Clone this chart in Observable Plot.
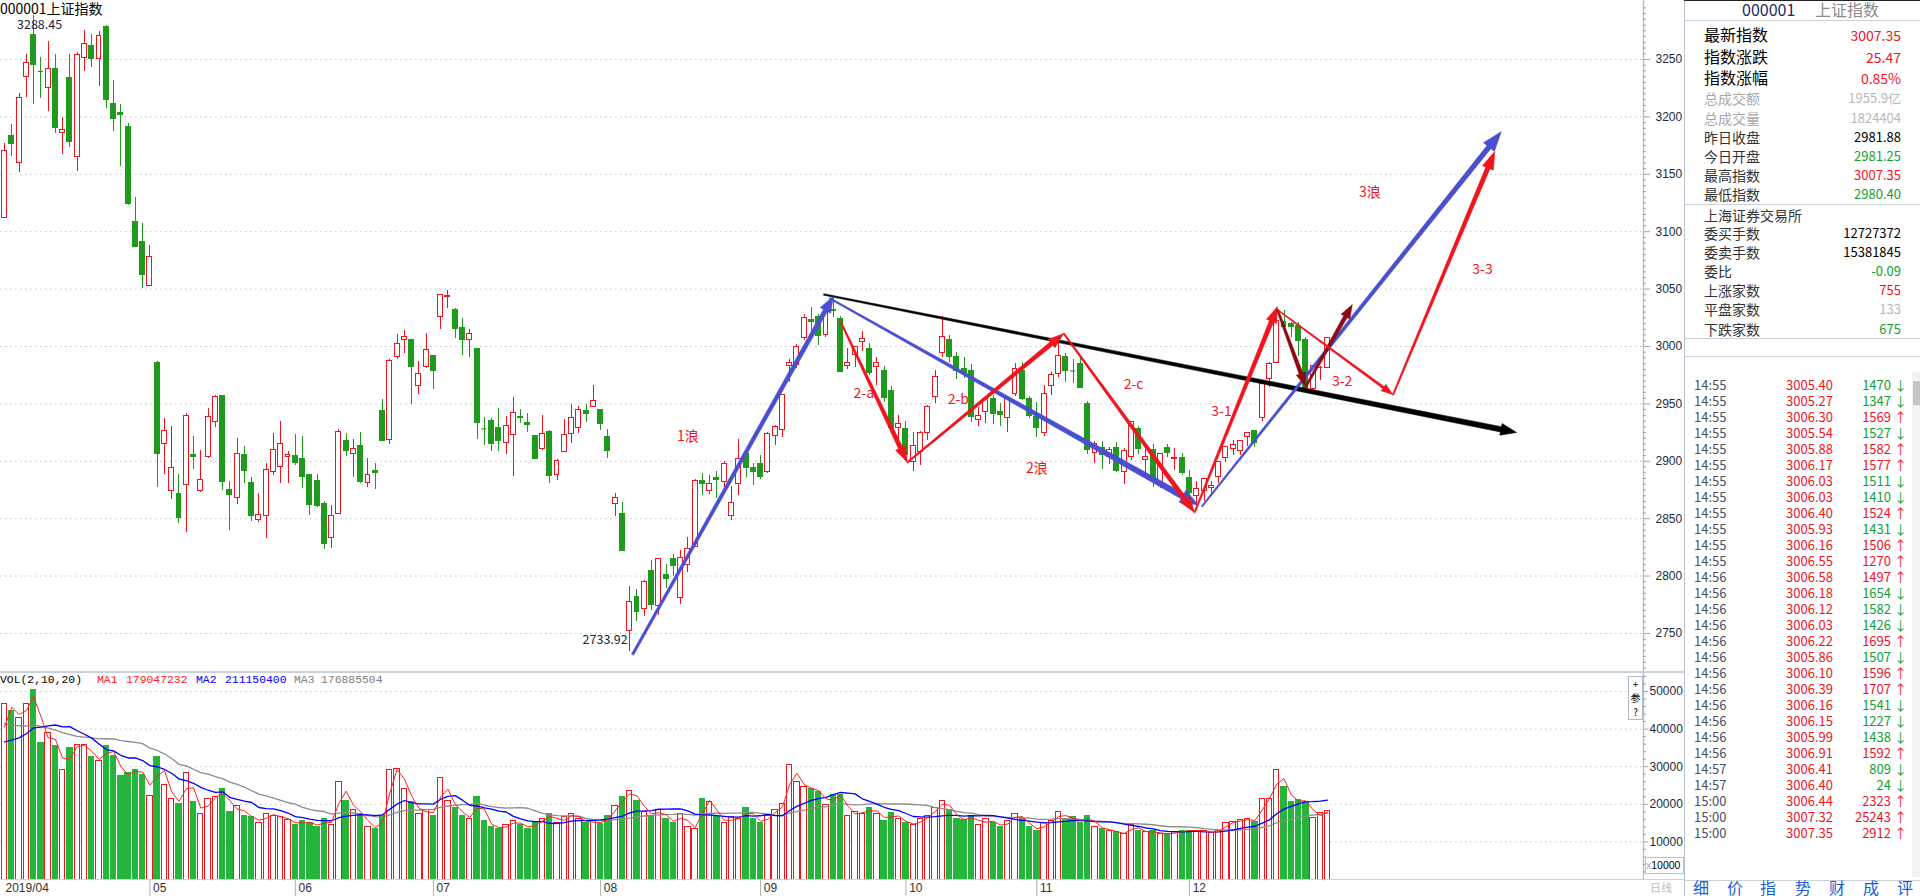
<!DOCTYPE html>
<html><head><meta charset="utf-8">
<script src="https://cdn.jsdelivr.net/npm/d3@7"></script>
<script src="https://cdn.jsdelivr.net/npm/@observablehq/plot@0.6"></script>
<style>
html,body{margin:0;padding:0;background:#fff}
body{position:relative;width:1920px;height:896px;overflow:hidden;font-family:"Noto Sans CJK SC","Noto Sans",sans-serif}
.abs{position:absolute}
.t{position:absolute;white-space:nowrap;line-height:1.2}
.ln{position:absolute;background:#c9d1d9}
</style></head><body>
<div id="price" class="abs" style="left:0;top:0"></div>
<div id="vol" class="abs" style="left:0;top:672px"></div>
<div id="xax" class="abs" style="left:0;top:880px"></div>
<script>
// ---------------- DATA (SSE Composite 000001, daily, 2019-04-01 .. 2019-12-26) ----------------
const open = [
3111.7,3183.7,3160.0,3234.4,3271.6,3240.5,3225.3,3241.6,3186.2,3234.0,3165.3,3251.0,3261.6,3250.6,3278.7,3211.6,3203.4,3190.9,3108.4,3090.9,3052.8,
2985.6,2915.0,2874.1,2871.6,2879.1,2905.6,2873.7,2903.4,2934.0,2956.5,2874.7,2868.4,2905.3,2881.0,2848.7,2851.9,2890.9,2895.0,2904.0,2904.7,
2902.2,2888.1,2882.5,2862.8,2833.4,2854.4,2917.8,2906.5,2913.4,2880.9,2891.5,2944.1,2918.4,2990.9,3005.3,3005.3,2965.3,2982.5,2991.9,
3025.3,3042.8,3032.2,3015.9,3005.9,2998.1,2929.1,2935.3,2928.8,2916.0,2923.1,2938.8,2933.1,2922.2,2910.6,2925.3,2887.8,2908.4,2924.1,2929.4,2943.4,2947.2,2945.0,
2921.4,2862.8,2854.4,2752.0,2782.0,2771.0,2804.0,2774.0,2801.0,2815.0,2781.0,2810.0,2825.0,2883.0,2874.0,2885.0,2882.0,2852.0,2880.0,2906.0,2894.0,2898.0,
2891,2922,2927,2983,2984,3007,3023,3026,3010,3032,3024,2983,2993,3004,2998,2982,2979,2961,2929,2928,
2899,2908,2925,2956,2994,3006,2991,2980,2979,2936,2943,2954,2943,2938,2959,2979,2954,2939,
2925,2966,2976,2991,2979,2985,2950,2907,2912,2904,2912,2891,2904,2928,2901,2910,2881,2912,2902,2903,2885,
2870,2874,2877,2886,2903,2911,2909,2921,2926,2938,2972,2986,3021,3020,3018,3006,2963,2981,2981.25];
const high = [
3176.6,3193.4,3220.0,3254.4,3288.45,3252.0,3265.3,3254.4,3199.7,3254.4,3256.0,3275.3,3271.6,3274.7,3280.0,3231.6,3210.6,3194.0,3129.4,3107.5,3088.4,
2986.6,2937.6,2930.0,2888.8,2941.3,2921.3,2909.0,2945.6,2956.9,2957.5,2882.5,2920.0,2912.8,2885.6,2872.2,2898.1,2924.1,2935.0,2908.4,2923.1,
2921.6,2888.8,2888.8,2865.3,2861.3,2927.8,2924.1,2919.1,2924.7,2902.8,2898.1,2953.8,2988.7,3010.6,3013.8,3005.9,2986.6,3011.6,2992.5,
3045.6,3049.0,3032.8,3024.7,3014.7,2998.1,2937.8,2937.2,2945.9,2938.8,2955.9,2945.0,2941.9,2922.2,2939.7,2927.2,2901.3,2936.6,2949.1,2948.1,2949.1,2965.9,2945.0,
2927.8,2872.2,2863.7,2791.0,2788.0,2796.0,2814.0,2815.0,2810.0,2819.0,2822.0,2834.0,2884.0,2889.0,2888.0,2891.0,2900.0,2878.0,2919.0,2910.0,2898.0,2905.0,
2925,2931,2957,2989,3002,3028,3034,3028,3034,3042.9,3026,2998,3000,3013,3003,2990,2983,2965,2940,2935,
2925,2926,2949,2979,3025.7,3010,2995,2990,2984,2947,2955,2957,2950,2956,2985,2986,2956,2951,
2966,2977,3005.2,2994,2989,2991,2952,2917,2917,2912,2916,2911,2934,2930,2910,2915,2907,2915,2911,2907,2892,
2882,2885,2882,2900,2913,2918,2918,2925,2927,2968,2986,3025,3031,3021,3021,3008,2983,2983,3007.35];
const low = [
3111.7,3165.3,3151.9,3216.9,3211.2,3216.0,3205.0,3185.6,3167.5,3173.0,3152.8,3239.4,3242.8,3226.9,3207.5,3187.2,3156.9,3123.1,3085.9,3050.3,3052.2,
2876.9,2888.8,2866.9,2845.6,2837.8,2892.8,2872.5,2902.2,2929.1,2874.7,2839.4,2862.2,2881.0,2847.2,2846.6,2832.5,2887.2,2881.0,2881.0,2896.6,
2876.3,2852.8,2859.7,2823.1,2824.1,2853.7,2904.4,2885.6,2880.9,2877.2,2875.6,2916.9,2914.7,2988.7,2994.1,2949.7,2958.1,2980.9,2962.2,
3014.7,3033.4,3006.6,2992.5,2990.3,2919.1,2913.7,2908.4,2908.4,2906.0,2886.6,2932.5,2925.3,2901.3,2909.7,2881.0,2883.4,2907.5,2915.3,2924.1,2933.4,2946.6,2926.9,
2902.2,2851.9,2821.5,2733.92,2760.0,2765.0,2770.0,2766.0,2789.0,2800.0,2775.0,2803.0,2825.0,2870.0,2871.0,2868.0,2876.0,2848.0,2870.0,2886.0,2879.0,2884.0,
2889,2914,2921,2969,2981,3005,3006,3001,3008,3025,2978,2980,2982,2996,2975,2966,2951,2924,2919,2905,
2891,2896,2918,2950,2990,2986,2971,2972,2934,2930,2933,2932,2930,2925,2956,2953,2937,2921,
2922,2957,2973,2969,2968,2964,2906,2898,2893,2897,2890,2880,2901,2906,2889,2877,2876,2903,2892,2888,2866,
2857,2865,2869,2881,2899,2905,2905,2913,2912,2935,2964,2985,3012,3008,2991,2961,2960,2970,2980.40];
const close = [
3170.36,3176.82,3216.30,3246.57,3244.81,3239.66,3241.93,3189.96,3188.63,3177.79,3253.60,3263.12,3250.20,3270.80,3215.04,3198.59,3201.61,3123.83,3086.40,3062.50,3078.34,
2906.46,2926.39,2893.76,2850.95,2939.21,2903.71,2883.61,2938.68,2955.71,2882.30,2870.60,2905.97,2891.70,2852.52,2852.99,2892.38,2909.91,2914.70,2905.81,2898.70,
2886.0,2862.28,2861.42,2827.80,2852.13,2925.72,2909.38,2910.74,2881.97,2887.62,2890.16,2917.80,2987.12,3001.98,3008.15,2982.07,2976.28,2996.79,2978.88,
3044.90,3043.94,3015.26,3005.25,3011.06,2933.36,2928.23,2915.30,2917.76,2930.55,2942.19,2937.62,2931.69,2901.95,2924.20,2886.97,2899.94,2923.28,2937.36,2944.54,2941.01,2952.34,2932.51,
2908.77,2867.84,2821.50,2777.56,2768.68,2794.55,2774.75,2814.99,2797.26,2808.91,2815.80,2823.82,2883.10,2880.33,2880.00,2883.44,2897.43,2863.57,2902.19,2893.76,2890.92,2886.24,
2924.11,2930.15,2957.41,2985.86,2999.60,3024.74,3021.20,3008.81,3031.24,3030.75,2978.12,2985.66,2999.28,3006.45,2977.08,2985.34,2955.43,2929.09,2932.17,2905.19,
2913.57,2924.86,2947.71,2973.66,3007.88,2991.05,2978.71,2977.33,2938.14,2939.62,2954.38,2940.92,2940.46,2954.93,2980.05,2954.18,2939.32,2929.06,
2958.20,2975.49,2991.56,2978.60,2978.71,2964.18,2909.97,2914.82,2905.24,2909.87,2891.34,2909.20,2933.99,2911.05,2903.64,2885.29,2906.17,2907.06,2903.19,2889.69,2871.98,
2875.81,2884.70,2878.12,2899.47,2912.01,2914.48,2917.32,2924.42,2915.70,2967.68,2984.39,3022.42,3017.04,3017.07,3004.94,2962.75,2982.68,2981.88,3007.35];
// volume, x10000 lots
const volume = [
46700,44900,42900,46800,50400,36400,39000,35500,29000,35000,35700,35700,32500,31400,35400,32800,27400,28300,29200,27900,22300,
32700,25200,21500,20000,28300,20500,17500,21500,22000,24000,18000,19500,17000,16500,15000,17500,17000,16500,15800,14500,
15500,15000,14000,16000,14500,26000,21000,18500,17500,14000,13500,17000,29000,29500,24000,20500,17500,18500,17000,
27000,21000,19000,17000,16000,22000,15500,14000,13500,14500,15500,14500,13500,15000,16000,17500,15000,16500,17500,16000,15000,15500,14800,
17000,19500,22000,23500,21000,18000,17000,18500,16000,15000,17500,14000,13500,21500,20500,16500,15000,16500,16000,19000,16000,15000,
17000,18500,20000,30500,26000,24500,24100,23200,19700,22500,22400,16800,18000,17500,19000,17500,15500,17800,16000,15000,
14500,16000,17000,19000,21000,18500,16000,15800,17000,14500,16000,15000,14000,15500,17500,16000,14000,13000,
15000,15500,18000,16000,16500,15000,17000,14000,13500,13000,12500,12000,14500,13000,12500,12800,12000,12200,12500,13000,13000,
13000,12800,12300,13000,15000,15300,15800,16000,15400,21500,21500,29200,24500,20500,21200,20700,16400,17566,18244];
// sessions before 2019-04-01 (only feed the moving averages; estimated from where MA lines start)
const volBeforeApril = [52000,49000,47000,45000,44000,48000,46000,43000,45000,45000,40000,37000,36000,35000,34000,36000,33000,34000,34300];

const monthStart = [0,21,41,60,83,105,125,143,164];
const monthLabel = ["2019/04","05","06","07","08","09","10","11","12"];
const priceTicks = [2750,2800,2850,2900,2950,3000,3050,3100,3150,3200,3250];
const volTicks = [10000,20000,30000,40000,50000];

// wave annotations: [name, startIndex, startPrice, endIndex, endPrice]
const waveArrows = [
 ["trend",112.7,3045.3,208.0,2925.1],
 ["w1",86.4,2731.7,114.0,3043.6],
 ["w2",113.5,3042.0,164.2,2861.9],
 ["w3",164.7,2860.6,205.9,3187.3],
 ["2-a",115.0,3021.8,124.2,2899.0],
 ["2-b",124.2,2899.0,145.7,3011.3],
 ["2-c",145.7,3011.3,163.7,2855.4],
 ["3-1",163.7,2855.4,175.1,3034.8],
 ["3-2x",175.1,3032.0,179.0,2965.0],
 ["3-2y",179.0,2965.0,185.4,3036.6],
 ["3-2",175.1,3032.0,191.0,2958.0],
 ["3-3",191.0,2958.0,205.0,3170.0]];
const waveText = ["1浪","2-a","2-b","2浪","2-c","3-1","3-2","3浪","3-3"];
const waveTextIndex = [94,118.2,131.2,142,155.3,167.4,184,187.8,203.3];
const waveTextPrice = [2922,2959,2953.8,2893.7,2967,2943.4,2969.5,3134,3067];

const headerMA = ["179047232","211150400","176885504"];
const quoteLabels = ["最新指数","指数涨跌","指数涨幅","总成交额","总成交量","昨日收盘","今日开盘","最高指数","最低指数"];
const quoteValues = ["3007.35","25.47","0.85%","1955.9亿","1824404","2981.88","2981.25","3007.35","2980.40"];
const exLabels = ["委买手数","委卖手数","委比","上涨家数","平盘家数","下跌家数"];
const exValues = ["12727372","15381845","-0.09","755","133","675"];
const tickTimes = ["14:55","14:55","14:55","14:55","14:55","14:55","14:55","14:55","14:55","14:55","14:55","14:55","14:56","14:56","14:56","14:56","14:56","14:56","14:56","14:56","14:56","14:56","14:56","14:56","14:57","14:57","15:00","15:00","15:00"];
const tickPrices = ["3005.40","3005.27","3006.30","3005.54","3005.88","3006.17","3006.03","3006.03","3006.40","3005.93","3006.16","3006.55","3006.58","3006.18","3006.12","3006.03","3006.22","3005.86","3006.10","3006.39","3006.16","3006.15","3005.99","3006.91","3006.41","3006.40","3006.44","3007.32","3007.35"];
const tickVols = [1470,1347,1569,1527,1582,1577,1511,1410,1524,1431,1506,1270,1497,1654,1582,1426,1695,1507,1596,1707,1541,1227,1438,1592,809,24,2323,25243,2912];
const tickDir = "↓↓↑↓↑↑↓↓↑↓↑↑↑↓↓↓↑↓↑↑↓↓↓↑↓↓↑↑↑";
const tabs = ["细","价","指","势","财","成","评"];

// ---------------- STYLE ----------------
const RED="#f0141e", GREEN="#1f9a1f", VGREEN="#25b53c", BLUE="#4a4fd0", DRED="#8c0a14", TXTGREEN="#12a032";
const arrowStyle = {
 "trend":{c:"#000",w1:1.5,w2:5.5,h:16,hw:6},
 "w1":{c:BLUE,w1:2.5,w2:4.5,h:16,hw:6},
 "w2":{c:BLUE,w1:1.5,w2:6,h:18,hw:7},
 "w3":{c:BLUE,w1:1.5,w2:5,h:20,hw:7},
 "2-a":{c:RED,w1:1.5,w2:4.5,h:16,hw:5.5},
 "2-b":{c:RED,w1:1.5,w2:4.5,h:16,hw:5.5},
 "2-c":{c:RED,w1:1.5,w2:4.5,h:16,hw:5.5},
 "3-1":{c:RED,w1:1.5,w2:4.5,h:16,hw:5.5},
 "3-2x":{c:DRED,w1:2,w2:4,h:14,hw:5},
 "3-2y":{c:DRED,w1:2,w2:4,h:14,hw:5},
 "3-2":{c:RED,w1:1,w2:2.5,h:12,hw:4},
 "3-3":{c:RED,w1:1.5,w2:4.5,h:18,hw:6}};
const X_DOMAIN=[-0.55,225.45], X_RANGE=[0,1643];
const PY_DOMAIN=[2716,3301.4], PY_RANGE=[672,0];
const VY_DOMAIN=[0,55053], VY_RANGE=[207,0];

// ---------------- BUILD ----------------
const bars = volume.map((v,i)=>({i,o:open[i],h:high[i],l:low[i],c:close[i],v,up:close[i]>=open[i]}));
const upB = bars.filter(d=>d.up), dnB = bars.filter(d=>!d.up);
const isBody = d=>Math.abs(d.c-d.o)>=0.9;
const HW=0.34, VW=0.37;

const sx=d3.scaleLinear(X_DOMAIN,X_RANGE), sy=d3.scaleLinear(PY_DOMAIN,PY_RANGE);
const pxX = (X_DOMAIN[1]-X_DOMAIN[0])/(X_RANGE[1]-X_RANGE[0]); // data units per pixel
function arrowPoly(a){
  const s=arrowStyle[a[0]];
  const x1=sx(a[1]),y1=sy(a[2]),x2=sx(a[3]),y2=sy(a[4]);
  const dx=x2-x1,dy=y2-y1,L=Math.hypot(dx,dy),ux=dx/L,uy=dy/L,nx=-uy,ny=ux;
  const bx=x2-ux*s.h,by=y2-uy*s.h;
  const pts=[[x1+nx*s.w1/2,y1+ny*s.w1/2],[bx+nx*s.w2/2,by+ny*s.w2/2],[bx+nx*s.hw,by+ny*s.hw],[x2,y2],
             [bx-nx*s.hw,by-ny*s.hw],[bx-nx*s.w2/2,by-ny*s.w2/2],[x1-nx*s.w1/2,y1-ny*s.w1/2]];
  return pts.map(([x,y])=>({i:sx.invert(x),p:sy.invert(y)}));
}
const arrowMarks = waveArrows.map(a=>Plot.line(arrowPoly(a),{x:"i",y:"p",fill:arrowStyle[a[0]].c,stroke:arrowStyle[a[0]].c,strokeWidth:0.5,curve:"linear-closed"}));
const labels = waveText.map((t,k)=>({t,i:waveTextIndex[k],p:waveTextPrice[k]}));
const minorPrice = d3.range(2720,3301,5).filter(v=>v%50!==0);
const axisEdge = X_DOMAIN[1];

const pricePlot = Plot.plot({
  width:1684,height:672,marginLeft:0,marginRight:41,marginTop:0,marginBottom:0,
  style:{background:"transparent",fontFamily:"Liberation Sans, Arial, sans-serif",fontSize:"12px",color:"#1e2a3a",overflow:"visible"},
  x:{domain:X_DOMAIN,range:X_RANGE,axis:null},
  y:{domain:PY_DOMAIN,range:PY_RANGE,axis:null},
  marks:[
    Plot.ruleY(priceTicks,{stroke:"#bfc3c8",strokeDasharray:"1.5,3.5"}),
    Plot.ruleX(upB,{x:"i",y1:"l",y2:"h",stroke:RED,strokeWidth:1,shapeRendering:"crispEdges"}),
    Plot.ruleX(dnB,{x:"i",y1:"l",y2:"h",stroke:GREEN,strokeWidth:1,shapeRendering:"crispEdges"}),
    Plot.rect(upB.filter(isBody),{x1:d=>d.i-HW,x2:d=>d.i+HW,y1:"o",y2:"c",fill:"#fff",stroke:RED,strokeWidth:1,shapeRendering:"crispEdges"}),
    Plot.rect(dnB.filter(isBody),{x1:d=>d.i-HW,x2:d=>d.i+HW,y1:"o",y2:"c",fill:GREEN,stroke:GREEN,strokeWidth:1,shapeRendering:"crispEdges"}),
    Plot.ruleY(upB.filter(d=>!isBody(d)),{x1:d=>d.i-HW,x2:d=>d.i+HW,y:"c",stroke:RED,strokeWidth:1.2}),
    Plot.ruleY(dnB.filter(d=>!isBody(d)),{x1:d=>d.i-HW,x2:d=>d.i+HW,y:"c",stroke:GREEN,strokeWidth:1.2}),
    ...arrowMarks,
    Plot.text(labels,{x:"i",y:"p",text:"t",fill:RED,fontSize:14,fontFamily:"Noto Sans CJK SC"}),
    Plot.text([bars[4]],{x:"i",y:"h",text:d=>d.h.toFixed(2),dx:6,dy:10,fill:"#1a2440",fontSize:12.5,fontFamily:"Noto Sans CJK SC"}),
    Plot.text([bars[86]],{x:"i",y:"l",text:d=>d.l.toFixed(2),dx:-2,dy:-12,textAnchor:"end",fill:"#1a2440",fontSize:12.5,fontFamily:"Noto Sans CJK SC"}),
    Plot.ruleX([axisEdge],{stroke:"#b9c2cb",strokeWidth:1.5}),
    Plot.ruleY(minorPrice,{x1:axisEdge,x2:axisEdge+3*pxX,stroke:"#9aa4ae"}),
    Plot.axisY({anchor:"right",ticks:priceTicks,tickSize:6,tickPadding:6,stroke:"#9aa4ae",label:null,tickFormat:d=>String(d)})
  ]
});
document.getElementById("price").appendChild(pricePlot);

// moving averages of volume (MA 2, 10, 20)
const allVol = volBeforeApril.concat(volume), off = volBeforeApril.length;
const ma = n => volume.map((_,i)=>({i,v:d3.mean(allVol.slice(Math.max(0,i+off-n+1),i+off+1))}));
const minorVol = d3.range(2000,55000,2000).filter(v=>v%10000!==0);
const volPlot = Plot.plot({
  width:1684,height:208,marginLeft:0,marginRight:41,marginTop:0,marginBottom:1,
  style:{background:"transparent",fontFamily:"Liberation Sans, Arial, sans-serif",fontSize:"12px",color:"#1e2a3a",overflow:"visible"},
  x:{domain:X_DOMAIN,range:X_RANGE,axis:null},
  y:{domain:VY_DOMAIN,range:VY_RANGE,axis:null},
  marks:[
    Plot.ruleY(volTicks,{stroke:"#bfc3c8",strokeDasharray:"1.5,3.5"}),
    Plot.rect(upB,{x1:d=>d.i-VW,x2:d=>d.i+VW,y1:0,y2:"v",fill:"#fff",stroke:RED,strokeWidth:1,shapeRendering:"crispEdges"}),
    Plot.rect(dnB,{x1:d=>d.i-VW,x2:d=>d.i+VW,y1:0,y2:"v",fill:VGREEN,stroke:VGREEN,strokeWidth:1,shapeRendering:"crispEdges"}),
    Plot.line(ma(20),{x:"i",y:"v",stroke:"#8c8c8c",strokeWidth:1.3}),
    Plot.line(ma(10),{x:"i",y:"v",stroke:"#0000ff",strokeWidth:1.3}),
    Plot.line(ma(2),{x:"i",y:"v",stroke:"#ff2020",strokeWidth:1}),
    Plot.ruleX([axisEdge],{stroke:"#b9c2cb",strokeWidth:1.5}),
    Plot.ruleY(minorVol,{x1:axisEdge,x2:axisEdge+3*pxX,stroke:"#9aa4ae"}),
    Plot.axisY({anchor:"right",ticks:volTicks,tickSize:4,tickPadding:2,stroke:"#9aa4ae",label:null,tickFormat:d=>String(d)})
  ]
});
document.getElementById("vol").appendChild(volPlot);

const months = monthStart.map((i,k)=>({i,label:monthLabel[k]}));
const xPlot = Plot.plot({
  width:1684,height:16,marginLeft:0,marginRight:41,marginTop:0,marginBottom:0,
  style:{background:"transparent",fontFamily:"Liberation Sans, Arial, sans-serif",fontSize:"12px",color:"#333",overflow:"visible"},
  x:{domain:X_DOMAIN,range:X_RANGE,axis:null},
  marks:[
    Plot.ruleX(months.slice(1),{x:d=>d.i-1.0,stroke:"#a9b2bb"}),
    Plot.text(months,{x:d=>d.i===0?0:d.i-0.7,text:"label",textAnchor:"start",dx:1,fill:"#333",fontSize:12})
  ]
});
document.getElementById("xax").appendChild(xPlot);

// ---------------- HTML overlays ----------------
function txt(s,x,y,o={}){
  const d=document.createElement("div");d.className="t";d.textContent=s;
  const fs=o.size||13;d.style.fontSize=fs+"px";d.style.color=o.color||"#333";
  if(o.font)d.style.fontFamily=o.font;
  d.style.top=(y-fs*0.6)+"px";
  if(o.right)d.style.right=(1920-x)+"px";else d.style.left=x+"px";
  document.body.appendChild(d);return d;
}
function line(x,y,w,h,c){const d=document.createElement("div");d.className="ln";d.style.left=x+"px";d.style.top=y+"px";d.style.width=w+"px";d.style.height=h+"px";if(c)d.style.background=c;document.body.appendChild(d);}

txt("000001上证指数",0,8,{size:14,color:"#000"});
line(0,671,1684,2,"#c9d1d9");
line(0,879,1684,1,"#c9d1d9");
const MONO="Liberation Mono, monospace";
txt("VOL(2,10,20)",0,681,{size:11.4,color:"#000",font:MONO});
txt("MA1",97,681,{size:11.4,color:"#ff2020",font:MONO});
txt(headerMA[0],126,681,{size:11.4,color:"#ff2020",font:MONO});
txt("MA2",196,681,{size:11.4,color:"#0000ff",font:MONO});
txt(headerMA[1],225,681,{size:11.4,color:"#0000ff",font:MONO});
txt("MA3",294,681,{size:11.4,color:"#808080",font:MONO});
txt(headerMA[2],321,681,{size:11.4,color:"#808080",font:MONO});
// small buttons at volume axis
(function(){const b=document.createElement("div");b.style.cssText="position:absolute;left:1628px;top:676px;width:13px;height:42px;border:1px solid #b0b8c0;background:#fff;font-size:10px;line-height:14px;text-align:center;color:#000";b.innerHTML="+<br>参<br>?";document.body.appendChild(b);})();
(function(){const b=document.createElement("div");b.style.cssText="position:absolute;left:1645px;top:857px;width:37px;height:15px;border:1px solid #b8c0c8;background:#fff;font-size:10.5px;line-height:15px;color:#000;font-family:Liberation Sans,Arial";b.innerHTML="<span style='color:#aaa'>x</span>10000";document.body.appendChild(b);})();
txt("日线",1650,888,{size:11,color:"#c0c0c0"});

// right panel
line(1684,0,1,896,"#b9c2cb");
line(1684,0,236,1,"#222");
line(1685,20,235,1,"#c9d1d9");
line(1685,204,235,1,"#c9d1d9");
line(1685,338,235,1,"#c9d1d9");
line(1685,356,235,1,"#c9d1d9");
txt("000001",1742,10,{size:16,color:"#1a2a5a"});
txt("上证指数",1815,10,{size:16,color:"#8a8a8a"});
const qY=[35,57,78,98,118,137,156,175,194];
const qLabColor=["#000","#000","#000","#a8a8a8","#a8a8a8","#333","#333","#333","#333"];
const qValColor=[RED,RED,RED,"#b8b8b8","#b8b8b8","#000",TXTGREEN,RED,TXTGREEN];
quoteLabels.forEach((s,k)=>{
  const big=k<3;
  txt(s,1704,qY[k],{size:big?16:14,color:qLabColor[k]});
  txt(quoteValues[k],1901,qY[k],{size:big?14:13,color:qValColor[k],right:true});
});
txt("上海证券交易所",1704,215,{size:14,color:"#333"});
const eY=[233,252,271,290,309,329];
const eValColor=["#000","#000",TXTGREEN,RED,"#b8b8b8",TXTGREEN];
exLabels.forEach((s,k)=>{
  txt(s,1704,eY[k],{size:14,color:"#333"});
  txt(exValues[k],1901,eY[k],{size:13,color:eValColor[k],right:true});
});
// tick list
(function(){const s=document.createElement("div");s.style.cssText="position:absolute;left:1912px;top:372px;width:8px;height:505px;background:#f2f2f2";document.body.appendChild(s);
const t=document.createElement("div");t.style.cssText="position:absolute;left:1913px;top:381px;width:7px;height:24px;background:#c4c4c4";document.body.appendChild(t);})();
tickTimes.forEach((tm,k)=>{
  const y=385+16*k, up=tickDir[k]==="↑";
  txt(tm,1694,y,{size:13,color:"#4a5060"});
  txt(tickPrices[k],1833,y,{size:13,color:RED,right:true});
  txt(String(tickVols[k]),1891,y,{size:13,color:up?RED:TXTGREEN,right:true});
  txt(tickDir[k],1894,y,{size:13,color:up?RED:TXTGREEN});
});
line(1685,880,235,1,"#c9d1d9");
const tabX=[1701,1735,1768,1803,1837,1871,1905];
tabs.forEach((s,k)=>txt(s,tabX[k]-8,888,{size:16,color:"#1a5fd0"}));
</script></body></html>
